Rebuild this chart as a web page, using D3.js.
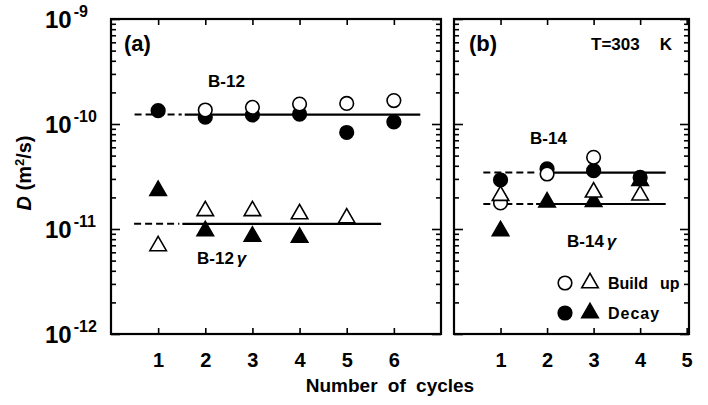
<!DOCTYPE html>
<html><head><meta charset="utf-8">
<script src="https://cdn.jsdelivr.net/npm/d3@7"></script>
<style>
body{margin:0;background:#fff}
text{font-family:"Liberation Sans",Arial,sans-serif;fill:#000}
</style>
</head><body><svg id="c" width="708" height="405"></svg>
<script>
// ---- data ----
const cyclesA = [1, 2, 3, 4, 5, 6];
const b12Build  = [null, 1.36e-10, 1.44e-10, 1.55e-10, 1.57e-10, 1.67e-10];
const b12Decay  = [1.34e-10, 1.16e-10, 1.22e-10, 1.24e-10, 8.3e-11, 1.05e-10];
const b12gBuild = [6.9e-12, 1.49e-11, 1.49e-11, 1.39e-11, 1.27e-11, null];
const b12gDecay = [2.32e-11, 9.6e-12, 8.5e-12, 8.3e-12, null, null];

const cyclesB = [1, 2, 3, 4];
const b14Build  = [1.77e-11, 3.34e-11, 4.82e-11, null];
const b14Decay  = [2.93e-11, 3.73e-11, 3.59e-11, 3.1e-11];
const b14gBuild = [2.08e-11, null, 2.24e-11, 2.1e-11];
const b14gDecay = [9.6e-12, 1.8e-11, 1.82e-11, 2.88e-11];

// fitted levels: D value; spans: dashed from cycle, dashed to cycle, solid to cycle
const fitLevelsA = [1.23e-10, 1.12e-11];
const fitSpansA  = [[0.5, 1.5, 6.56], [0.49, 1.45, 5.73]];
const fitLevelsB = [3.45e-11, 1.73e-11];
const fitSpansB  = [[0.63, 1.8, 4.55], [0.63, 1.7, 4.55]];

const xTicksA = [1, 2, 3, 4, 5, 6];
const xTicksB = [1, 2, 3, 4, 5];
const yDecades = [1e-12, 1e-11, 1e-10, 1e-9];
const yExponents = ["-12", "-11", "-10", "-9"];

// ---- drawing ----
const svg = d3.select("#c");
const FONT = '"Liberation Sans",Arial,sans-serif';
const yTop = 19, yBot = 334;
const y = d3.scaleLog().domain([1e-12, 1e-9]).range([yBot, yTop]);
const xA = d3.scaleLinear().domain([0, 7]).range([111, 441]);
const xB = d3.scaleLinear().domain([0, 5.05]).range([454, 689]);

const allTicks = y.ticks();
const isMajor = d => yDecades.some(m => Math.abs(d / m - 1) < 1e-6);
const minors = allTicks.filter(d => !isMajor(d));

function panel(x, xTicks) {
  const g = svg.append("g");
  const [x0, x1] = x.range();
  g.append("g").attr("transform", `translate(${x0},0)`)
    .call(d3.axisLeft(y).tickValues(minors).tickSize(-5).tickFormat(""));
  g.append("g").attr("transform", `translate(${x0},0)`)
    .call(d3.axisLeft(y).tickValues(yDecades).tickSize(-9).tickFormat(""));
  g.append("g").attr("transform", `translate(${x1},0)`)
    .call(d3.axisRight(y).tickValues(minors).tickSize(-5).tickFormat(""));
  g.append("g").attr("transform", `translate(${x1},0)`)
    .call(d3.axisRight(y).tickValues(yDecades).tickSize(-9).tickFormat(""));
  g.append("g").attr("transform", `translate(0,${yTop})`)
    .call(d3.axisTop(x).tickValues(xTicks).tickSize(-6).tickFormat(""));
  const bx = g.append("g").attr("transform", `translate(0,${yBot})`)
    .call(d3.axisBottom(x).tickValues(xTicks).tickSize(-6).tickPadding(19).tickFormat(d3.format("d")));
  bx.selectAll("text").attr("font-size", 20).attr("font-weight", "bold")
    .attr("font-family", FONT).attr("fill", "#000");
  g.selectAll(".domain").remove();
  g.selectAll(".tick line").attr("stroke", "#000").attr("stroke-width", 1.6);
  g.append("rect").attr("x", x0).attr("y", yTop).attr("width", x1 - x0).attr("height", yBot - yTop)
    .attr("fill", "none").attr("stroke", "#000").attr("stroke-width", 2.2);
  return g;
}

function fits(g, x, levels, spans) {
  levels.forEach((v, i) => {
    const [a, b, c] = spans[i];
    g.append("line").attr("x1", x(a)).attr("x2", x(b)).attr("y1", y(v)).attr("y2", y(v))
      .attr("stroke", "#000").attr("stroke-width", 2).attr("stroke-dasharray", "7,4");
    g.append("line").attr("x1", x(b) + 3).attr("x2", x(c)).attr("y1", y(v)).attr("y2", y(v))
      .attr("stroke", "#000").attr("stroke-width", 2.2);
  });
}

const circ = d3.symbol().type(d3.symbolCircle).size(Math.PI * 6.8 * 6.8);
const tri = d3.symbol().type(d3.symbolTriangle).size(118);

function markers(g, x, cycles, vals, shape, filled) {
  g.append("g").selectAll("path")
    .data(cycles.map((c, i) => [c, vals[i]]).filter(d => d[1] != null))
    .join("path")
    .attr("d", shape === "c" ? circ : tri)
    .attr("transform", d => `translate(${x(d[0])},${y(d[1])})`)
    .attr("fill", filled ? "#000" : "#fff")
    .attr("stroke", "#000").attr("stroke-width", 1.6);
}

const gA = panel(xA, xTicksA);
fits(gA, xA, fitLevelsA, fitSpansA);
markers(gA, xA, cyclesA, b12Decay, "c", true);
markers(gA, xA, cyclesA, b12Build, "c", false);
markers(gA, xA, cyclesA, b12gDecay, "t", true);
markers(gA, xA, cyclesA, b12gBuild, "t", false);

const gB = panel(xB, xTicksB);
fits(gB, xB, fitLevelsB, fitSpansB);
markers(gB, xB, cyclesB, b14Decay, "c", true);
markers(gB, xB, cyclesB, b14gDecay, "t", true);
markers(gB, xB, cyclesB, b14Build, "c", false);
markers(gB, xB, cyclesB, b14gBuild, "t", false);

// y tick labels with superscripts
yDecades.forEach((d, i) => {
  const t = svg.append("text").attr("x", 45).attr("y", y(d) + 9)
    .attr("font-size", 24).attr("font-weight", "bold");
  t.append("tspan").text("10");
  t.append("tspan").attr("dx", 2).attr("dy", -11).attr("font-size", 16).text(yExponents[i]);
});

// y axis title
const yt = svg.append("text").attr("transform", "translate(31,173) rotate(-90)")
  .attr("text-anchor", "middle").attr("font-size", 20).attr("font-weight", "bold");
yt.append("tspan").attr("font-style", "italic").text("D");
yt.append("tspan").text(" (m");
yt.append("tspan").attr("dy", -7).attr("font-size", 13).text("2");
yt.append("tspan").attr("dy", 7).text("/s)");

// x axis title
svg.append("text").attr("x", 390).attr("y", 392).attr("text-anchor", "middle")
  .attr("font-size", 19).attr("font-weight", "bold").attr("word-spacing", 5).text("Number of cycles");

function label(x, yy, txt, size, anchor) {
  return svg.append("text").attr("x", x).attr("y", yy).attr("font-size", size)
    .attr("font-weight", "bold").attr("text-anchor", anchor || "start").text(txt);
}
label(124, 51, "(a)", 22);
label(208, 87, "B-12", 17);
const g12 = label(197, 264, "B-12", 17);
g12.append("tspan").attr("font-style", "italic").attr("dx", 3).text("\u03b3");
label(469, 51, "(b)", 22);
const tk = label(591, 50, "T=303", 17);
tk.append("tspan").attr("dx", 20).text("K");
label(530, 144, "B-14", 17);
const g14 = label(567, 247, "B-14", 17);
g14.append("tspan").attr("font-style", "italic").attr("dx", 3).text("\u03b3");

// legend
const legY = [283, 313];
const legG = svg.append("g");
[[0, "#fff"], [1, "#000"]].forEach(([k, f]) => {
  legG.append("path").attr("d", circ).attr("transform", `translate(565,${legY[k]})`)
    .attr("fill", f).attr("stroke", "#000").attr("stroke-width", 1.6);
  legG.append("path").attr("d", tri).attr("transform", `translate(590,${legY[k]})`)
    .attr("fill", f).attr("stroke", "#000").attr("stroke-width", 1.6);
});
const bu = label(608, legY[0] + 6, "Build", 16);
bu.append("tspan").attr("dx", 12).text("up");
label(608, legY[1] + 6, "Decay", 16).attr("letter-spacing", 1);
</script>
</body></html>
